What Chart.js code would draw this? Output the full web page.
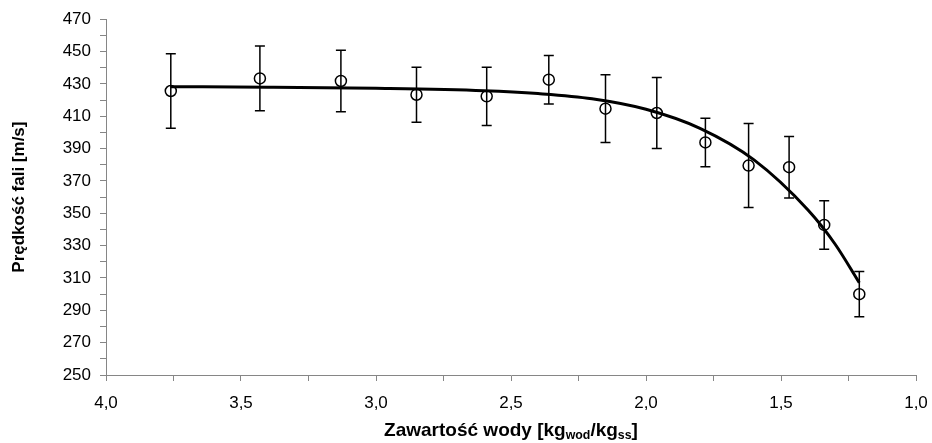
<!DOCTYPE html>
<html>
<head>
<meta charset="utf-8">
<script src="https://cdn.jsdelivr.net/npm/chart.js@4/dist/chart.umd.min.js"></script>
<style>
  html, body { margin: 0; padding: 0; background: #fff; }
  .wrap { position: relative; width: 932px; height: 443px; }
  .x-title {
    position: absolute; left: 0; width: 1022px; top: 419px;
    text-align: center; font: bold 19px "Liberation Sans", Arial, sans-serif;
    line-height: 22px; color: #000;
  }
  .x-title sub { font-size: 0.65em; vertical-align: -0.25em; line-height: 0; }
</style>
</head>
<body>
<div class="wrap">
  <canvas id="chart" width="932" height="443"></canvas>
  <div class="x-title">Zawartość wody [kg<sub>wod</sub>/kg<sub>ss</sub>]</div>
</div>
<script>
// pomiary: zawartość wody, prędkość fali, odchylenie
const moisture = [3.76, 3.43, 3.13, 2.85, 2.59, 2.36, 2.15, 1.96, 1.78, 1.62, 1.47, 1.34, 1.21];
const speed = [425.6, 433.4, 431.8, 423.3, 422.3, 432.6, 414.7, 412.0, 393.8, 379.5, 378.5, 342.8, 300.0];
const speedErr = [23, 20, 19, 17, 18, 15, 21, 22, 15, 26, 19, 15, 14];

// krzywa dopasowania
const fitX = [3.76, 3.4, 3.0, 2.6, 2.4, 2.2, 2.0, 1.8, 1.6, 1.4, 1.3, 1.21];
const fitY = [428.3, 428.0, 427.3, 425.8, 424.0, 420.8, 414.3, 402.5, 383.0, 352.0, 331.0, 307.0];

const FONT = '"Liberation Sans", Arial, sans-serif';
const AXIS_GREY = '#868686';

const errorBars = {
  id: 'errorBars',
  beforeDatasetsDraw(chart) {
    const { ctx, scales: { x, y } } = chart;
    ctx.save();
    ctx.strokeStyle = '#000';
    ctx.lineWidth = 1.5;
    moisture.forEach((m, i) => {
      const px = x.getPixelForValue(m);
      const top = y.getPixelForValue(speed[i] + speedErr[i]);
      const bot = y.getPixelForValue(speed[i] - speedErr[i]);
      ctx.beginPath();
      ctx.moveTo(px, top); ctx.lineTo(px, bot);
      ctx.moveTo(px - 5, top); ctx.lineTo(px + 5, top);
      ctx.moveTo(px - 5, bot); ctx.lineTo(px + 5, bot);
      ctx.stroke();
    });
    ctx.restore();
  }
};

new Chart(document.getElementById('chart'), {
  type: 'scatter',
  data: {
    datasets: [
      {
        label: 'pomiar',
        data: moisture.map((m, i) => ({ x: m, y: speed[i] })),
        pointStyle: 'circle',
        pointRadius: 5.5,
        pointBorderWidth: 1.5,
        pointBackgroundColor: 'rgba(0,0,0,0)',
        pointBorderColor: '#000',
        showLine: false
      },
      {
        label: 'dopasowanie',
        data: fitX.map((m, i) => ({ x: m, y: fitY[i] })),
        showLine: true,
        borderColor: '#000',
        borderWidth: 3,
        pointRadius: 0,
        cubicInterpolationMode: 'monotone'
      }
    ]
  },
  options: {
    responsive: false,
    animation: false,
    layout: { padding: { left: 0, right: 16, top: 19, bottom: 0 } },
    plugins: { legend: { display: false }, tooltip: { enabled: false } },
    scales: {
      x: {
        type: 'linear',
        reverse: true,
        min: 1, max: 4,
        afterFit: (s) => { s.height = 68; s.paddingLeft = 0; s.paddingRight = 0; },
        border: { color: AXIS_GREY, width: 1 },
        grid: { drawOnChartArea: false, drawTicks: true, tickLength: 6, color: AXIS_GREY },
        ticks: {
          stepSize: 0.25,
          autoSkip: false,
          maxRotation: 0,
          padding: 12,
          color: '#000',
          font: { family: FONT, size: 17 },
          callback: (v) => (Math.abs(v * 2 - Math.round(v * 2)) < 1e-6) ? v.toFixed(1).replace('.', ',') : ''
        }
      },
      y: {
        min: 250, max: 470,
        afterFit: (s) => { s.width = 106; },
        border: { color: AXIS_GREY, width: 1 },
        grid: { drawOnChartArea: false, drawTicks: true, tickLength: 6, color: AXIS_GREY },
        ticks: {
          stepSize: 10,
          autoSkip: false,
          padding: 9,
          color: '#000',
          font: { family: FONT, size: 17 },
          callback: (v) => ((v - 250) % 20 === 0) ? String(v) : ''
        },
        title: {
          display: true,
          text: 'Prędkość fali [m/s]',
          color: '#000',
          font: { family: FONT, size: 17, weight: 'bold' },
          padding: { top: 9, bottom: 0 }
        }
      }
    }
  },
  plugins: [errorBars]
});
</script>
</body>
</html>
